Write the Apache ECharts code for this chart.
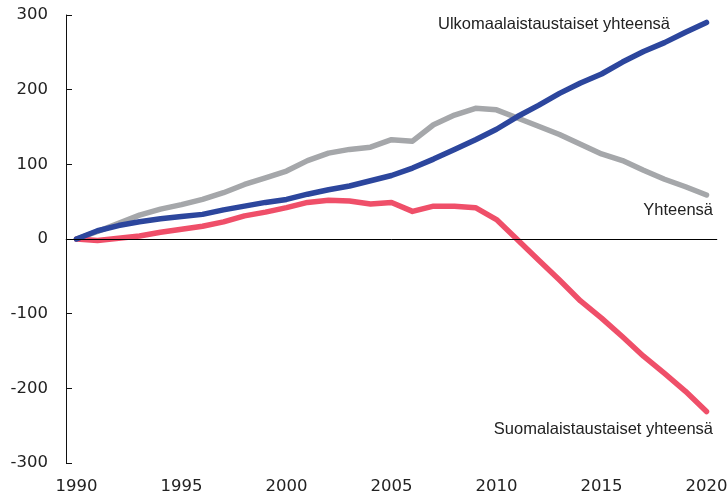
<!DOCTYPE html>
<html lang="fi">
<head>
<meta charset="UTF-8">
<title>Väestönmuutos</title>
<style>
  * { margin: 0; padding: 0; }
  #chart { width: 728px; height: 494px; background: #fff; }
</style>
<script src="https://cdn.jsdelivr.net/npm/echarts@6/dist/echarts.min.js"></script>
</head>
<body>
<div id="chart"></div>
<script>
// vuodet 1990-2020
var years = [];
for (var y = 1990; y <= 2020; y++) years.push(String(y));

// Ulkomaalaistaustaiset yhteensä
var ulkomaalais = [0, 11, 18, 23, 27, 30, 33, 39, 44, 49, 53, 60, 66, 71, 78, 85,
  95, 107, 120, 133, 147, 164, 179, 195, 209, 221, 237, 251, 263, 277, 290];
// Suomalaistaustaiset yhteensä
var suomalais = [0, -2, 1, 4, 9, 13, 17, 23, 31, 36, 42, 49, 52, 51, 47, 49,
  37, 44, 44, 42, 26, -1, -28, -55, -83, -106, -131, -157, -180, -204, -231];
// Yhteensä
var yhteensa = [0, 10, 21, 32, 40, 46, 53, 62, 73, 82, 91, 105, 115, 120, 123, 133,
  131, 153, 166, 175, 173, 162, 151, 140, 127, 114, 105, 92, 80, 70, 59];

var fontFam = '"Liberation Sans", Arial, sans-serif';
var axisFont = '"DejaVu Sans", sans-serif';
var chart = echarts.init(document.getElementById('chart'));

var option = {
  animation: false,
  grid: { left: 66, right: 11, top: 15, bottom: 31, outerBoundsMode: 'none' },
  xAxis: {
    type: 'category',
    data: years,
    boundaryGap: true,
    axisLine: { lineStyle: { color: '#8a8a8a', width: 1 } },
    axisTick: { inside: true, length: 5, interval: 0, lineStyle: { color: '#333' } },
    axisLabel: { interval: 4, color: '#222', fontSize: 16.5, fontFamily: axisFont, margin: 15 }
  },
  yAxis: {
    type: 'value',
    min: -300, max: 300, interval: 100,
    splitLine: { show: false },
    axisLine: { show: true, lineStyle: { color: '#111', width: 1 } },
    axisTick: { show: true, inside: true, length: 6, lineStyle: { color: '#111' } },
    axisLabel: { color: '#222', fontSize: 16.5, fontFamily: axisFont, margin: 18 }
  },
  series: [
    {
      name: 'Yhteensä',
      type: 'line',
      data: yhteensa,
      symbol: 'none',
      lineStyle: { color: '#a5a7aa', width: 5.5, cap: 'round', join: 'round' },
      markLine: {
        silent: true,
        symbol: 'none',
        label: { show: false },
        lineStyle: { color: '#000', width: 1, type: 'solid' },
        data: [{ yAxis: 0 }]
      }
    },
    {
      name: 'Suomalaistaustaiset yhteensä',
      type: 'line',
      data: suomalais,
      symbol: 'none',
      lineStyle: { color: '#ef4f69', width: 5.5, cap: 'round', join: 'round' }
    },
    {
      name: 'Ulkomaalaistaustaiset yhteensä',
      type: 'line',
      data: ulkomaalais,
      symbol: 'none',
      lineStyle: { color: '#2c469d', width: 5.5, cap: 'round', join: 'round' }
    }
  ],
  graphic: [
    { type: 'text', x: 670, y: 24,
      style: { text: 'Ulkomaalaistaustaiset yhteensä', fill: '#222', fontSize: 16.5, fontFamily: fontFam,
        textAlign: 'right', textVerticalAlign: 'middle' } },
    { type: 'text', x: 713, y: 210,
      style: { text: 'Yhteensä', fill: '#222', fontSize: 16.5, fontFamily: fontFam,
        textAlign: 'right', textVerticalAlign: 'middle' } },
    { type: 'text', x: 713, y: 429,
      style: { text: 'Suomalaistaustaiset yhteensä', fill: '#222', fontSize: 16.5, fontFamily: fontFam,
        textAlign: 'right', textVerticalAlign: 'middle' } }
  ]
};
chart.setOption(option);
</script>
</body>
</html>
